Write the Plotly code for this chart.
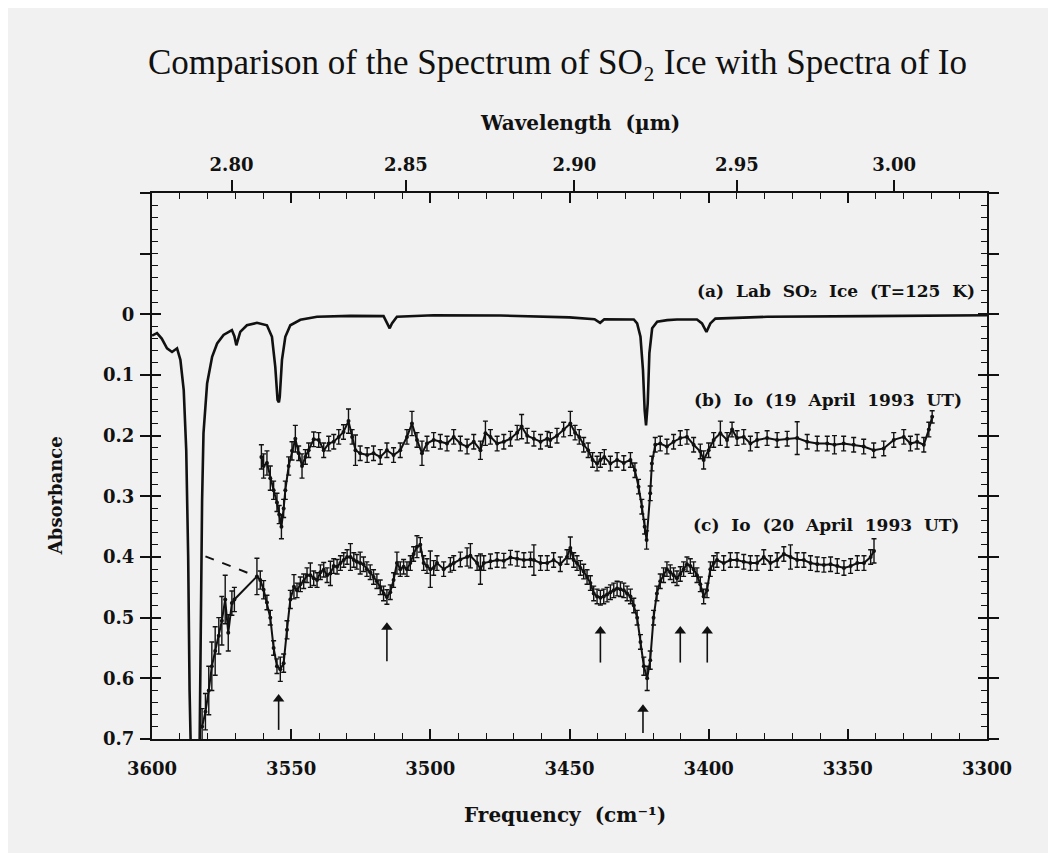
import plotly.graph_objects as go

# ---------------- data ----------------
# (a) laboratory SO2 ice spectrum: frequency (cm^-1) and absorbance
a_freq = [3600.0, 3598.2, 3596.5, 3594.6, 3592.8, 3591.0, 3589.8, 3588.6, 3587.7, 3587.0,
          3586.5, 3586.0, 3584.6, 3583.2, 3582.6, 3582.0, 3581.5, 3580.2, 3578.4, 3576.6,
          3574.3, 3571.3, 3570.4, 3569.7, 3569.0, 3568.3, 3565.9, 3562.3, 3558.7, 3556.9,
          3555.7, 3554.9, 3554.4, 3554.1, 3553.3, 3552.1, 3550.3, 3546.7, 3540.7, 3528.7,
          3516.8, 3515.3, 3514.6, 3513.8, 3512.0, 3498.8, 3474.9, 3450.0, 3441.0, 3439.0,
          3437.5, 3426.9, 3425.7, 3424.5, 3423.6, 3423.0, 3422.5, 3421.9, 3421.3, 3420.3,
          3418.5, 3414.9, 3411.4, 3404.2, 3402.4, 3400.8, 3399.4, 3397.6, 3379.0, 3343.1,
          3301.2, 3300.0]
a_abs = [0.035, 0.031, 0.040, 0.056, 0.062, 0.056, 0.075, 0.125, 0.224, 0.400,
         0.620, 0.850, 1.050, 0.850, 0.550, 0.306, 0.196, 0.114, 0.070, 0.048,
         0.034, 0.026, 0.036, 0.051, 0.040, 0.029, 0.018, 0.014, 0.018, 0.037,
         0.087, 0.141, 0.145, 0.136, 0.075, 0.037, 0.018, 0.009, 0.004, 0.0025,
         0.003, 0.015, 0.023, 0.015, 0.004, 0.0015, 0.002, 0.005, 0.008, 0.014,
         0.008, 0.0085, 0.015, 0.037, 0.092, 0.158, 0.183, 0.147, 0.064, 0.023,
         0.012, 0.0096, 0.0085, 0.0085, 0.015, 0.029, 0.015, 0.007, 0.004, 0.003,
         0.0015, 0.0015]

# (b) Io, 19 April 1993 UT
b_freq = [3560.7, 3559.9, 3558.7, 3557.5, 3556.3, 3555.1, 3554.3, 3553.5, 3552.7, 3552.1,
          3550.9, 3549.7, 3548.5, 3547.3, 3546.1, 3544.9, 3543.7, 3541.9, 3540.1, 3538.3,
          3536.5, 3534.7, 3532.9, 3531.2, 3529.4, 3528.1, 3526.9, 3525.2, 3522.7, 3520.4,
          3518.0, 3515.6, 3513.2, 3510.8, 3508.4, 3506.6, 3504.8, 3503.0, 3501.2, 3498.8,
          3496.4, 3494.0, 3491.6, 3489.2, 3486.8, 3484.4, 3482.0, 3480.2, 3478.4, 3476.0,
          3473.6, 3471.2, 3468.8, 3467.2, 3465.2, 3462.8, 3460.4, 3458.0, 3456.9, 3454.5,
          3452.1, 3449.7, 3448.0, 3446.5, 3444.9, 3443.3, 3441.7, 3440.1, 3438.9, 3437.5,
          3435.3, 3432.9, 3430.5, 3428.1, 3426.5, 3425.2, 3424.0, 3423.0, 3422.3, 3421.0,
          3420.4, 3419.2, 3417.4, 3415.0, 3412.6, 3410.2, 3407.8, 3405.4, 3403.0, 3401.8,
          3400.0, 3398.2, 3395.8, 3393.4, 3391.6, 3389.8, 3387.4, 3385.0, 3382.6, 3379.0,
          3375.4, 3371.8, 3368.2, 3364.6, 3361.0, 3357.4, 3354.8, 3351.5, 3347.9, 3344.3,
          3340.7, 3337.1, 3333.5, 3329.9, 3327.5, 3325.1, 3322.7, 3320.9, 3319.7]
b_abs = [0.235, 0.250, 0.245, 0.270, 0.290, 0.310, 0.330, 0.350, 0.320, 0.290,
         0.250, 0.225, 0.205, 0.229, 0.250, 0.235, 0.224, 0.206, 0.207, 0.224,
         0.213, 0.210, 0.202, 0.194, 0.176, 0.202, 0.224, 0.229, 0.232, 0.229,
         0.235, 0.224, 0.232, 0.224, 0.202, 0.180, 0.207, 0.229, 0.213, 0.207,
         0.210, 0.213, 0.202, 0.213, 0.218, 0.210, 0.224, 0.196, 0.202, 0.213,
         0.210, 0.205, 0.195, 0.185, 0.200, 0.205, 0.210, 0.205, 0.207, 0.200,
         0.190, 0.180, 0.195, 0.202, 0.215, 0.224, 0.240, 0.246, 0.240, 0.235,
         0.246, 0.240, 0.245, 0.240, 0.257, 0.284, 0.317, 0.350, 0.372, 0.295,
         0.246, 0.215, 0.213, 0.218, 0.210, 0.204, 0.202, 0.215, 0.226, 0.240,
         0.224, 0.207, 0.196, 0.207, 0.190, 0.204, 0.202, 0.213, 0.207, 0.204,
         0.207, 0.205, 0.204, 0.210, 0.213, 0.213, 0.215, 0.213, 0.215, 0.218,
         0.224, 0.221, 0.207, 0.202, 0.213, 0.210, 0.215, 0.190, 0.169]
b_err = [0.020, 0.020, 0.020, 0.020, 0.015, 0.015, 0.015, 0.020, 0.015, 0.015,
         0.015, 0.015, 0.022, 0.012, 0.020, 0.012, 0.012, 0.012, 0.012, 0.012,
         0.012, 0.012, 0.012, 0.012, 0.020, 0.012, 0.025, 0.012, 0.012, 0.012,
         0.012, 0.012, 0.012, 0.012, 0.012, 0.020, 0.012, 0.020, 0.012, 0.012,
         0.012, 0.012, 0.012, 0.012, 0.012, 0.012, 0.015, 0.020, 0.012, 0.012,
         0.012, 0.012, 0.012, 0.020, 0.012, 0.012, 0.012, 0.012, 0.012, 0.012,
         0.012, 0.020, 0.012, 0.012, 0.012, 0.012, 0.012, 0.012, 0.012, 0.012,
         0.012, 0.012, 0.012, 0.012, 0.012, 0.012, 0.012, 0.012, 0.015, 0.012,
         0.012, 0.012, 0.012, 0.012, 0.012, 0.012, 0.012, 0.012, 0.012, 0.015,
         0.012, 0.012, 0.020, 0.012, 0.012, 0.012, 0.012, 0.012, 0.012, 0.012,
         0.012, 0.012, 0.027, 0.012, 0.012, 0.012, 0.015, 0.012, 0.012, 0.012,
         0.012, 0.012, 0.012, 0.012, 0.012, 0.012, 0.012, 0.012, 0.010]

# (c) Io, 20 April 1993 UT
c_freq = [3582.0, 3580.8, 3579.6, 3578.5, 3577.3, 3576.0, 3574.9, 3573.7, 3572.6, 3571.3,
          3570.4, 3562.3, 3561.1, 3559.9, 3558.7, 3557.5, 3556.3, 3555.1, 3553.9, 3552.7,
          3551.5, 3550.3, 3549.0, 3547.9, 3546.7, 3545.5, 3544.3, 3543.1, 3541.9, 3540.7,
          3539.5, 3538.3, 3537.1, 3535.9, 3534.7, 3533.5, 3532.3, 3531.1, 3529.9, 3528.7,
          3527.5, 3526.4, 3525.2, 3524.0, 3522.8, 3521.6, 3520.4, 3519.2, 3518.0, 3516.8,
          3515.6, 3514.4, 3513.2, 3512.0, 3510.8, 3509.6, 3508.4, 3507.2, 3506.0, 3504.8,
          3503.6, 3502.4, 3501.2, 3500.0, 3498.8, 3497.6, 3495.2, 3492.8, 3491.6, 3489.2,
          3486.8, 3485.6, 3483.2, 3482.0, 3480.8, 3478.4, 3476.0, 3473.6, 3471.2, 3468.8,
          3466.4, 3464.0, 3462.8, 3460.4, 3458.0, 3455.7, 3453.3, 3450.9, 3449.7, 3448.5,
          3447.3, 3446.1, 3444.9, 3443.7, 3442.5, 3441.3, 3440.1, 3438.9, 3437.7, 3436.5,
          3435.3, 3434.1, 3432.9, 3431.7, 3430.5, 3429.3, 3428.1, 3426.9, 3425.7, 3424.5,
          3423.3, 3422.1, 3421.0, 3419.8, 3418.6, 3417.4, 3416.2, 3415.0, 3413.8, 3412.6,
          3411.4, 3410.2, 3409.0, 3407.8, 3406.6, 3405.4, 3404.2, 3403.0, 3401.8, 3400.6,
          3399.4, 3398.2, 3397.0, 3394.6, 3392.2, 3389.8, 3387.4, 3385.0, 3382.6, 3380.2,
          3377.8, 3375.4, 3373.0, 3370.6, 3368.2, 3365.8, 3363.4, 3361.0, 3358.6, 3356.2,
          3353.8, 3351.4, 3349.0, 3346.6, 3344.2, 3341.8, 3340.6]
c_abs = [0.680, 0.655, 0.620, 0.580, 0.555, 0.530, 0.505, 0.470, 0.525, 0.476,
         0.470, 0.432, 0.438, 0.454, 0.475, 0.500, 0.550, 0.580, 0.585, 0.575,
         0.520, 0.470, 0.449, 0.455, 0.445, 0.440, 0.430, 0.430, 0.435, 0.438,
         0.425, 0.421, 0.430, 0.427, 0.415, 0.416, 0.410, 0.405, 0.400, 0.400,
         0.405, 0.408, 0.410, 0.412, 0.420, 0.425, 0.433, 0.440, 0.450, 0.460,
         0.466, 0.458, 0.438, 0.410, 0.420, 0.416, 0.420, 0.410, 0.395, 0.383,
         0.380, 0.410, 0.415, 0.420, 0.418, 0.410, 0.420, 0.413, 0.410, 0.404,
         0.400, 0.398, 0.410, 0.420, 0.410, 0.407, 0.405, 0.406, 0.401, 0.403,
         0.405, 0.404, 0.405, 0.410, 0.410, 0.405, 0.412, 0.400, 0.385, 0.405,
         0.410, 0.418, 0.424, 0.433, 0.443, 0.460, 0.465, 0.467, 0.465, 0.462,
         0.458, 0.455, 0.452, 0.453, 0.455, 0.460, 0.465, 0.480, 0.500, 0.540,
         0.580, 0.600, 0.570, 0.500, 0.460, 0.440, 0.430, 0.420, 0.425, 0.430,
         0.435, 0.428, 0.420, 0.412, 0.415, 0.420, 0.430, 0.445, 0.465, 0.455,
         0.420, 0.410, 0.405, 0.410, 0.405, 0.405, 0.408, 0.410, 0.410, 0.400,
         0.410, 0.405, 0.395, 0.400, 0.405, 0.405, 0.410, 0.412, 0.413, 0.412,
         0.415, 0.418, 0.415, 0.410, 0.410, 0.400, 0.390]
c_err = [0.030, 0.030, 0.040, 0.040, 0.040, 0.030, 0.040, 0.040, 0.030, 0.020,
         0.020, 0.030, 0.015, 0.015, 0.012, 0.012, 0.012, 0.012, 0.020, 0.015,
         0.015, 0.015, 0.020, 0.012, 0.012, 0.012, 0.012, 0.020, 0.012, 0.012,
         0.012, 0.012, 0.012, 0.020, 0.012, 0.012, 0.012, 0.012, 0.012, 0.022,
         0.012, 0.012, 0.018, 0.012, 0.012, 0.012, 0.012, 0.012, 0.012, 0.012,
         0.012, 0.012, 0.012, 0.018, 0.012, 0.012, 0.012, 0.012, 0.012, 0.018,
         0.012, 0.012, 0.012, 0.030, 0.012, 0.012, 0.012, 0.012, 0.012, 0.012,
         0.015, 0.020, 0.012, 0.025, 0.012, 0.012, 0.012, 0.012, 0.012, 0.012,
         0.012, 0.012, 0.025, 0.012, 0.012, 0.012, 0.012, 0.012, 0.018, 0.012,
         0.012, 0.012, 0.012, 0.012, 0.012, 0.012, 0.012, 0.012, 0.012, 0.012,
         0.012, 0.012, 0.012, 0.012, 0.012, 0.012, 0.012, 0.012, 0.012, 0.012,
         0.015, 0.020, 0.015, 0.012, 0.012, 0.012, 0.012, 0.012, 0.012, 0.012,
         0.012, 0.012, 0.012, 0.012, 0.012, 0.012, 0.012, 0.012, 0.012, 0.012,
         0.012, 0.012, 0.012, 0.012, 0.012, 0.012, 0.012, 0.012, 0.012, 0.012,
         0.012, 0.012, 0.012, 0.020, 0.012, 0.012, 0.012, 0.012, 0.012, 0.012,
         0.012, 0.012, 0.012, 0.012, 0.012, 0.012, 0.020]

# dashed continuum line drawn under spectrum (c)
dash_freq = [3580.8, 3562.3]
dash_abs = [0.399, 0.432]

# arrows marking absorption features (frequency, head absorbance, tail absorbance)
arrow_freq = [3554.5, 3515.6, 3438.9, 3423.6, 3410.2, 3400.5]
arrow_head = [0.634, 0.516, 0.522, 0.651, 0.522, 0.522]
arrow_tail = [0.685, 0.572, 0.574, 0.690, 0.574, 0.574]

# axis ticks
freq_ticks = [3600, 3550, 3500, 3450, 3400, 3350, 3300]
wl_ticks = [2.80, 2.85, 2.90, 2.95, 3.00]
wl_labels = ["2.80", "2.85", "2.90", "2.95", "3.00"]
abs_major = [-0.2, -0.1, 0.0, 0.1, 0.2, 0.3, 0.4, 0.5, 0.6, 0.7]
abs_ticks = [0.0, 0.1, 0.2, 0.3, 0.4, 0.5, 0.6, 0.7]
abs_labels = ["0", "0.1", "0.2", "0.3", "0.4", "0.5", "0.6", "0.7"]

# series labels
NB = "\u00a0"
labels = ["(a)" + NB * 2 + "Lab" + NB * 2 + "SO\u2082" + NB * 2 + "Ice" + NB * 2 + "(T=125" + NB * 2 + "K)",
          "(b)" + NB * 2 + "Io" + NB * 2 + "(19" + NB * 2 + "April" + NB * 2 + "1993" + NB * 2 + "UT)",
          "(c)" + NB * 2 + "Io" + NB * 2 + "(20" + NB * 2 + "April" + NB * 2 + "1993" + NB * 2 + "UT)"]
label_freq = [3303.7, 3308.4, 3309.5]
label_abs = [-0.039, 0.141, 0.347]

# ---------------- figure ----------------
INK = "#111111"
BG = "#f1f1f1"
SERIF = "Liberation Serif"
BOLD = "DejaVu Serif"

assert len(a_freq) == len(a_abs)
assert len(b_freq) == len(b_abs) == len(b_err)
assert len(c_freq) == len(c_abs) == len(c_err)

fig = go.Figure()

fig.add_trace(go.Scatter(
    x=a_freq, y=a_abs, mode="lines", xaxis="x2", yaxis="y",
    line=dict(color=INK, width=2.6), hoverinfo="skip", showlegend=False))

fig.add_trace(go.Scatter(
    x=dash_freq, y=dash_abs, mode="lines",
    line=dict(color=INK, width=2, dash="dash"), hoverinfo="skip", showlegend=False))

fig.add_trace(go.Scatter(
    x=b_freq, y=b_abs, mode="lines+markers", xaxis="x", yaxis="y2",
    line=dict(color=INK, width=2), marker=dict(color=INK, size=4),
    error_y=dict(type="data", array=b_err, color=INK, thickness=1.4, width=2.5),
    hoverinfo="skip", showlegend=False))

fig.add_trace(go.Scatter(
    x=c_freq, y=c_abs, mode="lines+markers",
    line=dict(color=INK, width=2), marker=dict(color=INK, size=4),
    error_y=dict(type="data", array=c_err, color=INK, thickness=1.4, width=2.5),
    hoverinfo="skip", showlegend=False))

# arrows: shafts and heads
shaft_x, shaft_y = [], []
for f, h, t in zip(arrow_freq, arrow_head, arrow_tail):
    shaft_x += [f, f, None]
    shaft_y += [t, h, None]
fig.add_trace(go.Scatter(
    x=shaft_x, y=shaft_y, mode="lines", line=dict(color=INK, width=1.6),
    hoverinfo="skip", showlegend=False))
fig.add_trace(go.Scatter(
    x=arrow_freq, y=arrow_head, mode="markers",
    marker=dict(symbol="triangle-up", size=10, color=INK, line=dict(width=0)),
    hoverinfo="skip", showlegend=False))

tickfont = dict(family=BOLD, size=18, color=INK, weight="bold")

fig.update_layout(
    width=1040, height=845,
    margin=dict(l=144, r=61, t=185, b=114),
    paper_bgcolor=BG, plot_bgcolor=BG,
    xaxis=dict(
        range=[3600, 3300], tickmode="array", tickvals=freq_ticks,
        ticktext=[str(v) for v in freq_ticks],
        ticks="inside", ticklen=10, tickwidth=1.5, tickcolor=INK,
        minor=dict(tickmode="linear", tick0=3300, dtick=10, ticks="inside",
                   ticklen=6, tickwidth=1.3, tickcolor=INK),
        showline=True, linewidth=2, linecolor=INK, mirror="ticks",
        showgrid=False, zeroline=False, tickfont=tickfont, ticklabelstandoff=12),
    xaxis2=dict(
        overlaying="x", side="top", anchor="y",
        range=[3600, 3300], tickmode="array",
        tickvals=[1e4 / w for w in wl_ticks], ticktext=wl_labels,
        ticks="outside", ticklen=12, tickwidth=1.5, tickcolor=INK,
        showline=False, showgrid=False, zeroline=False, tickfont=tickfont,
        ticklabelstandoff=2),
    yaxis=dict(
        range=[0.7, -0.2], tickmode="array", tickvals=abs_ticks, ticktext=abs_labels,
        ticks="inside", ticklen=9, tickwidth=1.5, tickcolor=INK,
        minor=dict(tickmode="linear", tick0=0, dtick=0.02, ticks="inside",
                   ticklen=6, tickwidth=1.3, tickcolor=INK),
        showline=True, linewidth=2, linecolor=INK, mirror="ticks",
        showgrid=False, zeroline=False, tickfont=tickfont, ticklabelstandoff=12),
    yaxis2=dict(
        overlaying="y", side="left", anchor="x",
        range=[0.7, -0.2], tickmode="array", tickvals=abs_major,
        showticklabels=False, ticks="outside", ticklen=10, tickwidth=1.5,
        tickcolor=INK, showline=True, linewidth=2, linecolor=INK, mirror="ticks",
        showgrid=False, zeroline=False),
)

ann = []
ann.append(dict(text="Comparison of the Spectrum of SO\u2082 Ice with Spectra of Io",
                xref="paper", yref="paper", x=0.486, y=1.239, showarrow=False,
                xanchor="center", yanchor="middle",
                font=dict(family=SERIF, size=35, color=INK)))
ann.append(dict(text="Wavelength" + NB * 2 + "(µm)", xref="paper", yref="paper",
                x=0.512, y=1.129, showarrow=False, xanchor="center", yanchor="middle",
                font=dict(family=BOLD, size=20, color=INK, weight="bold")))
ann.append(dict(text="Frequency" + NB * 2 + "(cm\u207b\u00b9)", xref="paper", yref="paper",
                x=0.495, y=-0.139, showarrow=False, xanchor="center", yanchor="middle",
                font=dict(family=BOLD, size=20, color=INK, weight="bold")))
ann.append(dict(text="Absorbance", xref="paper", yref="paper", x=-0.116, y=0.445,
                showarrow=False, xanchor="center", yanchor="middle", textangle=-90,
                font=dict(family=BOLD, size=18, color=INK, weight="bold")))
for t, fx, fy in zip(labels, label_freq, label_abs):
    ann.append(dict(text=t, xref="x", yref="y", x=fx, y=fy, showarrow=False,
                    xanchor="right", yanchor="middle",
                    font=dict(family=BOLD, size=17, color=INK, weight="bold")))
fig.update_layout(annotations=ann)

fig.write_html("out.html")
